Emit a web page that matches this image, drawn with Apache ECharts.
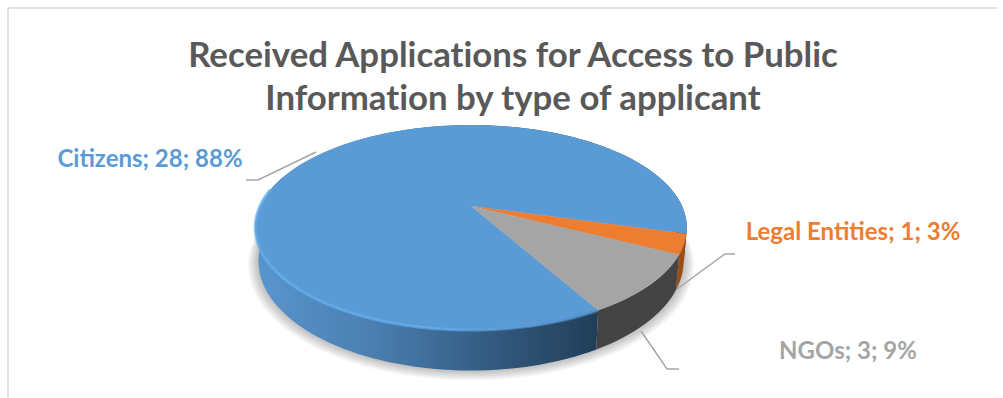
<!DOCTYPE html>
<html>
<head>
<meta charset="utf-8">
<title>Received Applications</title>
<script src="https://cdn.jsdelivr.net/npm/echarts@6/dist/echarts.min.js"></script>
<style>
  html, body { margin: 0; padding: 0; background: #fff; }
  #main { width: 1003px; height: 398px; }
  #main text { font-variant-ligatures: none; }
</style>
</head>
<body>
<div id="main"></div>
<script>
var categories = ['Citizens', 'Legal Entities', 'NGOs']
var values = [28, 1, 3]
var colors = ['#5b9bd5', '#ed7d31', '#a5a5a5']

var total = values.reduce(function (a, b) { return a + b }, 0)
var startDeg = 60.5 // clockwise from 3 o'clock, where the first slice starts

// perspective disc, fitted to the picture
var cx = 471, cy = 206, R = 211, Q = 98, P = 0.21, DEPTH = 32

function project (deg, drop) {
  var a = deg * Math.PI / 180
  var u = Math.cos(a), v = Math.sin(a)
  var s = 1 / (1 - P * v)
  var scale = drop ? 0.985 : 1
  return [cx + R * u * s * scale, cy + Q * v * s + (drop ? DEPTH * s : 0)]
}

function arc (from, to, drop) {
  var pts = []
  var n = Math.max(2, Math.ceil(Math.abs(to - from) / 2))
  for (var i = 0; i <= n; i++) {
    pts.push(project(from + (to - from) * i / n, drop))
  }
  return pts
}

function sliceRange (idx) {
  var before = 0
  for (var i = 0; i < idx; i++) before += values[i]
  return [
    startDeg + before / total * 360,
    startDeg + (before + values[idx]) / total * 360
  ]
}

function gradientX (x1, x2, stops) {
  return {
    type: 'linear', x: x1, y: 0, x2: x2, y2: 0, global: true,
    colorStops: stops.map(function (s) { return {offset: s[0], color: s[1]} })
  }
}

var wallFills = [
  gradientX(253, 595, [[0, '#5a96cf'], [0.35, '#4a7fb0'], [0.7, '#335a80'], [1, '#223f59']]),
  '#9c4d12',
  '#444444'
]
// the bevel is bright on the left and fades out towards the right
var rimColors = [
  gradientX(253, 590, [[0, '#64aef0'], [0.55, '#64aef0'], [1, '#4f8cc4']]),
  '#b9611f',
  '#6f6f6f'
]

// label text spot, elbow and end of each leader line
var leaders = [
  {tx: 150, ty: 157, line: [[246, 180], [258, 180], [316, 152]]},
  {tx: 853, ty: 230, line: [[735, 254], [725, 254], [677, 289]]},
  {tx: 848, ty: 349, line: [[679, 369], [667, 369], [641, 331]]}
]

// soft drop shadow: a stack of faint discs, each a little bigger than the last
function renderShadow (params) {
  if (params.dataIndex !== 0) return null
  var base = arc(0, 360, true)
  var children = []
  for (var k = 1; k <= 7; k++) {
    var grow = 1 + k * 0.007
    children.push({
      type: 'polygon',
      shape: {points: base.map(function (p) {
        return [cx + (p[0] - cx) * grow, cy + 50 + (p[1] - cy - 50) * grow + k * 0.6]
      })},
      style: {fill: '#000000', opacity: 0.035}
    })
  }
  return {type: 'group', children: children}
}

function renderLeader (params) {
  return {
    type: 'polyline',
    shape: {points: leaders[params.dataIndex].line},
    style: {stroke: '#a6a6a6', lineWidth: 1.5, fill: null}
  }
}

function renderWall (params) {
  var r = sliceRange(params.dataIndex)
  var pts = arc(r[0], r[1], false).concat(arc(r[1], r[0], true))
  return {
    type: 'polygon',
    shape: {points: pts},
    style: {fill: wallFills[params.dataIndex]}
  }
}

function renderTop (params) {
  var i = params.dataIndex
  var r = sliceRange(i)
  var pts = [[cx, cy]].concat(arc(r[0], r[1], false))
  var rimFrom = Math.max(r[0], 0)
  var rimTo = Math.min(r[1], 190)
  var children = [{
    type: 'polygon',
    shape: {points: pts},
    style: {fill: colors[i]}
  }]
  if (rimTo > rimFrom) {
    children.push({
      type: 'polyline',
      shape: {points: arc(rimFrom, rimTo, false)},
      style: {stroke: rimColors[i], lineWidth: 3, fill: null, opacity: 0.7}
    })
  }
  return {type: 'group', children: children}
}

function renderLabel (params, api) {
  var i = params.dataIndex
  var pct = Math.round(api.value(0) / total * 100)
  return {
    type: 'text',
    style: {
      x: leaders[i].tx,
      y: leaders[i].ty,
      text: categories[i] + '; ' + api.value(0) + '; ' + pct + '%',
      fill: colors[i],
      font: 'bold 24px Lato, "Open Sans", sans-serif',
      align: 'center',
      verticalAlign: 'middle'
    }
  }
}

var seriesData = categories.map(function (name, i) {
  return {name: name, value: values[i]}
})

function layer (fn, z) {
  return {
    type: 'custom',
    coordinateSystem: 'none',
    renderItem: fn,
    data: seriesData,
    z: z,
    silent: true,
    animation: false
  }
}

var chart = echarts.init(document.getElementById('main'), null, {renderer: 'svg'})
chart.setOption({
  backgroundColor: '#ffffff',
  animation: false,
  title: {
    text: 'Received Applications for Access to Public\nInformation by type of applicant',
    left: 508,
    top: 27,
    textAlign: 'center',
    textStyle: {
      color: '#595959',
      fontFamily: 'Lato, "Open Sans", sans-serif',
      fontWeight: 'bold',
      fontSize: 34.8,
      lineHeight: 43
    }
  },
  graphic: [{
    type: 'polyline',
    shape: {points: [[8, 398], [8, 8], [997, 8]]},
    style: {stroke: '#d9d9d9', lineWidth: 1.5, fill: null}
  }],
  series: [
    layer(renderShadow, 1),
    layer(renderLeader, 2),
    layer(renderWall, 3),
    layer(renderTop, 4),
    layer(renderLabel, 5)
  ]
})
</script>
</body>
</html>
